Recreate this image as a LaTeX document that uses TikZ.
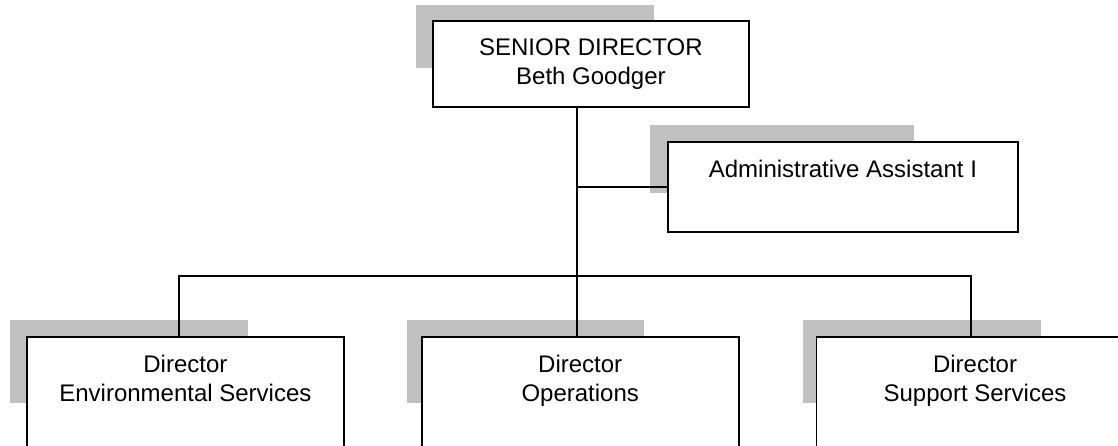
\documentclass[tikz,border=0pt]{standalone}
\usepackage{fontspec}
\setmainfont{Liberation Sans}
\usepackage{tikz}
\usetikzlibrary{positioning}
\definecolor{shadegray}{RGB}{192,192,192}

\begin{document}
\begin{tikzpicture}[
    x=0.5pt, y=-0.5pt,
    line width=0.9pt,
    post/.style={draw, fill=white, rectangle, inner sep=0pt, anchor=north west},
    director/.style={post, minimum width=158.5pt, minimum height=65pt},
    title/.style={anchor=north, yshift=-9pt, inner sep=0pt, align=center,
        font=\fontsize{12}{14.5}\selectfont},
    node distance=38pt
]

\useasboundingbox (0,0) rectangle (1118,445);
\clip (0,0) rectangle (1118,445);

\fill[shadegray] (416,5) rectangle (654,68);
\fill[shadegray] (650,125) rectangle (914,193);
\fill[shadegray] (10,320) rectangle (248,403);
\fill[shadegray] (407,320) rectangle (644,403);
\fill[shadegray] (803,320) rectangle (1041,403);

\node[post, minimum width=158pt, minimum height=43pt,
    label={[title]north:{SENIOR DIRECTOR\\Beth Goodger}}] (senior) at (432,20) {};
\node[post, minimum width=175pt, minimum height=45pt,
    label={[title]north:{Administrative Assistant I}}] (asst) at (667,141) {};

\node[director, label={[title]north:{Director\\Environmental Services}}] (envdir) at (26,336) {};
\node[director, right=of envdir, anchor=west,
    label={[title]north:{Director\\Operations}}] (opsdir) {};
\node[director, right=of opsdir, anchor=west,
    label={[title]north:{Director\\Support Services}}] (supdir) {};

\coordinate (trunk) at (577,276);
\coordinate (envin) at (179,276);
\coordinate (supin) at (971,276);

\draw (trunk |- senior.south) -- (trunk |- opsdir.north);
\draw (trunk |- asst.west) -- (asst.west);
\draw (envin |- envdir.north) -- (envin) -- (supin) -- (supin |- supdir.north);

\end{tikzpicture}
\end{document}
